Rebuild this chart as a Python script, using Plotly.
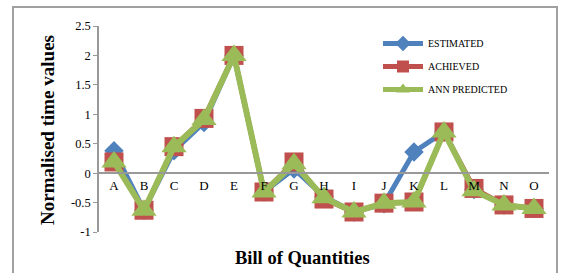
import plotly.graph_objects as go

categories = ["A", "B", "C", "D", "E", "F", "G", "H", "I", "J", "K", "L", "M", "N", "O"]
estimated = [0.38, -0.63, 0.38, 0.86, 2.0, -0.32, 0.07, -0.40, -0.66, -0.52, 0.36, 0.70, -0.28, -0.54, -0.60]
achieved = [0.19, -0.63, 0.45, 0.93, 2.0, -0.32, 0.19, -0.44, -0.66, -0.51, -0.49, 0.70, -0.26, -0.54, -0.60]
ann_predicted = [0.19, -0.63, 0.45, 0.91, 2.0, -0.32, 0.16, -0.42, -0.66, -0.51, -0.49, 0.70, -0.30, -0.54, -0.60]
y_ticks = [-1, -0.5, 0, 0.5, 1, 1.5, 2, 2.5]
y_range = [-1, 2.5]

FONT = "Liberation Serif"

fig = go.Figure()
fig.add_trace(go.Scatter(x=categories, y=estimated, name="ESTIMATED", mode="lines+markers",
                         line=dict(color="#4F81BD", width=5),
                         marker=dict(symbol="diamond", size=15, color="#4F81BD"),
                         legendgroup="a"))
fig.add_trace(go.Scatter(x=categories, y=achieved, name="ACHIEVED", mode="lines+markers",
                         line=dict(color="#C0504D", width=5),
                         marker=dict(symbol="square", size=19, color="#C0504D"),
                         legendgroup="b"))
fig.add_trace(go.Scatter(x=categories, y=ann_predicted, name="ANN PREDICTED", mode="lines+markers",
                         line=dict(color="#9BBB59", width=6),
                         marker=dict(symbol="triangle-up", size=22, color="#9BBB59"),
                         legendgroup="c"))

W, H = 565, 273
L, R, T, B = 99, 16, 26, 41
pw, ph = W - L - R, H - T - B

def px_x(p):
    return (p - L) / pw

def px_y(p):
    return (H - B - p) / ph

fig.update_layout(
    width=W, height=H,
    margin=dict(l=L, r=R, t=T, b=B, pad=0),
    paper_bgcolor="white", plot_bgcolor="white",
    font=dict(family=FONT, color="black", size=12),
    showlegend=True,
    legend=dict(x=px_x(378), y=px_y(29), xanchor="left", yanchor="top",
                font=dict(family=FONT, size=10, color="black"),
                bgcolor="rgba(0,0,0,0)", tracegroupgap=4, itemwidth=40,
                itemsizing="constant"),
    xaxis=dict(type="category", range=[-0.5, 14.5], showgrid=False, zeroline=False,
               anchor="free", position=(0 - y_range[0]) / (y_range[1] - y_range[0]),
               showline=True, linecolor="#999999", linewidth=2, ticks="",
               tickfont=dict(family=FONT, size=13, color="black"), fixedrange=True),
    yaxis=dict(range=y_range, tickvals=y_ticks, ticktext=[str(v) for v in y_ticks],
               showgrid=False, zeroline=False, showline=True, linecolor="#999999", linewidth=1.5,
               ticks="outside", ticklen=4, tickcolor="#999999",
               tickfont=dict(family=FONT, size=12.5, color="black")),
    shapes=[dict(type="rect", xref="paper", yref="paper",
                 x0=px_x(13), x1=px_x(557), y0=px_y(290), y1=px_y(7),
                 line=dict(color="#A0A0A0", width=2), fillcolor="rgba(0,0,0,0)", layer="above")],
    annotations=[
        dict(text="<b>Normalised time values</b>", xref="paper", yref="paper",
             x=px_x(47), y=px_y(130), textangle=-90, showarrow=False,
             font=dict(family=FONT, size=19, color="black"), xanchor="center", yanchor="middle"),
        dict(text="<b>Bill of Quantities</b>", xref="paper", yref="paper",
             x=px_x(302), y=px_y(258), showarrow=False,
             font=dict(family=FONT, size=18.5, color="black"), xanchor="center", yanchor="middle"),
    ],
)

fig.write_html("out.html", config={"displayModeBar": False},
               post_script="document.body.style.margin='0';document.body.style.overflow='hidden';")
